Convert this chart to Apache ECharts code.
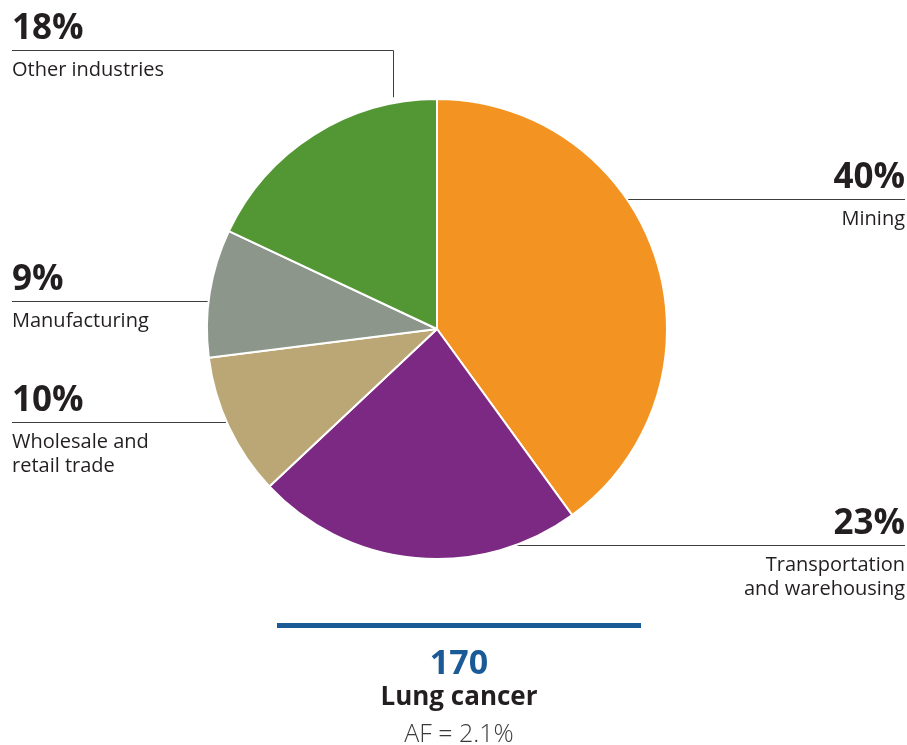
<!DOCTYPE html>
<html lang="en">
<head>
    <meta charset="UTF-8">
    <title>Lung cancer</title>
    <script src="https://cdn.jsdelivr.net/npm/echarts@6/dist/echarts.min.js"></script>
</head>
<body style="margin:0;background:#fff;">
<div id="main" style="width: 907px;height:745px;"></div>
<script>
    // data
    var industries = ['Mining', 'Transportation\nand warehousing', 'Wholesale and\nretail trade', 'Manufacturing', 'Other industries'];
    var shares = [40, 23, 10, 9, 18];
    var sliceColors = ['#f39321', '#7b2983', '#bba775', '#8c968b', '#539634'];
    var totalCases = '170';
    var cancerName = 'Lung cancer';
    var afText = 'AF = 2.1%';

    // pie geometry
    var cx = 437, cy = 329, R = 230;
    var font = '"Open Sans", sans-serif';

    // where each label sits: side, y of divider line, far x
    var labelPos = [
        {side: 'right', lineY: 199, edgeX: 905},
        {side: 'right', lineY: 545, edgeX: 905},
        {side: 'left', lineY: 422, edgeX: 12},
        {side: 'left', lineY: 301, edgeX: 12},
        {side: 'left', lineY: 50, edgeX: 12, elbowX: 393}
    ];

    function pieX(y, side) {
        var d = Math.sqrt(R * R - (y - cy) * (y - cy));
        return side === 'right' ? cx + d : cx - d;
    }

    var myChart = echarts.init(document.getElementById('main'));

    var pieData = [];
    for (var i = 0; i < industries.length; i++) {
        pieData.push({
            name: industries[i],
            value: shares[i],
            itemStyle: {color: sliceColors[i]}
        });
    }

    myChart.setOption({
        animation: false,
        series: [{
            type: 'pie',
            center: [cx, cy],
            radius: [0, R],
            startAngle: 90,
            clockwise: true,
            data: pieData,
            itemStyle: {borderColor: '#fff', borderWidth: 2},
            emphasis: {disabled: true},
            label: {
                show: true,
                position: 'outside',
                formatter: function (p) {
                    return '{p|' + p.value + '%}\n{n|' + p.name + '}';
                },
                rich: {
                    p: {fontFamily: font, fontWeight: 'bold', fontSize: 35, color: '#231f20', lineHeight: 58},
                    n: {fontFamily: font, fontSize: 20, color: '#231f20', lineHeight: 24}
                }
            },
            labelLine: {
                show: true,
                lineStyle: {color: '#3d3d3d', width: 1}
            },
            labelLayout: function (params) {
                var lp = labelPos[params.dataIndex];
                var ly = lp.lineY + 0.5;
                var pts;
                if (lp.elbowX) {
                    var topY = cy - Math.sqrt(R * R - (lp.elbowX - cx) * (lp.elbowX - cx));
                    pts = [[lp.elbowX + 0.5, topY - 6], [lp.elbowX + 0.5, ly], [lp.edgeX, ly]];
                } else {
                    pts = [[pieX(lp.lineY, lp.side), ly], [lp.edgeX, ly]];
                }
                return {
                    x: lp.edgeX,
                    y: lp.lineY - 50,
                    align: lp.side === 'right' ? 'right' : 'left',
                    verticalAlign: 'top',
                    labelLinePoints: pts
                };
            }
        }],
        graphic: [
            {
                type: 'rect',
                shape: {x: 277, y: 623, width: 364, height: 5},
                style: {fill: '#1a5a96'}
            },
            {
                type: 'text',
                x: 459, y: 664,
                style: {text: totalCases, font: 'bold 34px ' + font, fill: '#1a5a96', textAlign: 'center', textVerticalAlign: 'middle'}
            },
            {
                type: 'text',
                x: 459, y: 698,
                style: {text: cancerName, font: 'bold 26px ' + font, fill: '#231f20', textAlign: 'center', textVerticalAlign: 'middle'}
            },
            {
                type: 'text',
                x: 459, y: 735,
                style: {text: afText, font: '300 25px ' + font, fill: '#3a3a3a', textAlign: 'center', textVerticalAlign: 'middle'}
            }
        ]
    });
</script>
</body>
</html>
